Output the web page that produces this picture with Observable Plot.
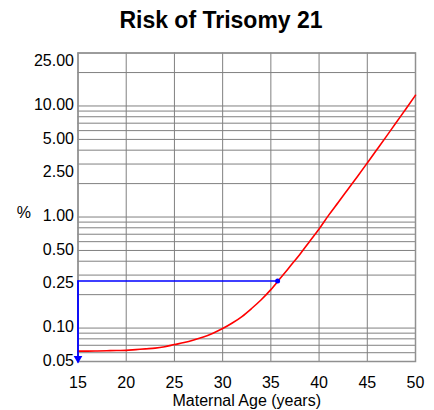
<!DOCTYPE html>
<html>
<head>
<meta charset="utf-8">
<script src="https://cdn.jsdelivr.net/npm/d3@7"></script>
<script src="https://cdn.jsdelivr.net/npm/@observablehq/plot@0.6"></script>
<style>
  body { margin: 0; background: #fff; font-family: "Liberation Sans", Arial, sans-serif; }
  #wrap { position: relative; width: 434px; height: 410px; }
  #title { position: absolute; left: 4px; top: 0; width: 434px; text-align: center; font-weight: bold; font-size: 23px; line-height: 23px; padding-top: 9px; color: #000; }
  #chart { position: absolute; left: 0; top: 40px; }
  .stray { position: absolute; color: #555; font-size: 7px; line-height: 7px; }
</style>
</head>
<body>
<div id="wrap">
  <div id="title">Risk of Trisomy 21</div>
  <div class="stray" style="left:0px;top:145px;">%</div>
  <div class="stray" style="left:0px;top:248px;">.</div>
  <div id="chart"></div>
</div>
<script>
const title = "Risk of Trisomy 21";
const xLabel = "Maternal Age (years)";
const yLabel = "%";
const ages = [15,16,17,18,19,20,21,22,23,24,25,26,27,28,29,30,31,32,33,34,35,36,37,38,39,40,41,42,43,44,45,46,47,48,49,50];
const risk = [0.062,0.062,0.0622,0.0625,0.0628,0.063,0.064,0.065,0.066,0.068,0.071,0.074,0.078,0.083,0.090,0.099,0.111,0.127,0.150,0.180,0.222,0.282,0.360,0.460,0.600,0.780,1.04,1.36,1.78,2.33,3.07,4.05,5.35,7.1,9.4,12.5];
const xTicks = [15,20,25,30,35,40,45,50];
const yTicks = [0.05,0.1,0.25,0.5,1,2.5,5,10,25];
const yGrid = [0.05,0.06,0.07,0.08,0.09,0.1,0.2,0.3,0.4,0.5,0.6,0.7,0.8,0.9,1,2,3,4,5,6,7,8,9,10,20,30];
const xDomain = [15, 50];
const yDomain = [0.05, 30];
const refAge = 35.7;
const refRisk = 0.265;
const startAge = 15;

const curve = ages.map((a, i) => ({age: a, risk: risk[i]}));
const hLine = [{age: startAge, risk: refRisk}, {age: refAge, risk: refRisk}];
const vLine = [{age: startAge, risk: refRisk}, {age: startAge, risk: yDomain[0]}];

const chart = Plot.plot({
  width: 434,
  height: 370,
  marginTop: 12.5,
  marginBottom: 49,
  marginLeft: 77.5,
  marginRight: 19,
  style: {fontFamily: "'Liberation Sans', Arial, sans-serif", fontSize: "16px", color: "#000", background: "#fff"},
  x: {domain: xDomain, axis: null},
  y: {type: "log", domain: yDomain, axis: null},
  marks: [
    Plot.ruleY(yGrid, {stroke: "#808080", strokeWidth: 1}),
    Plot.ruleX(xTicks, {stroke: "#808080", strokeWidth: 1}),
    Plot.frame({stroke: "#909090", strokeWidth: 1.5}),
    Plot.text(xTicks, {x: d => d, text: d => String(d), frameAnchor: "bottom", lineAnchor: "top", dy: 15, fontSize: 16, fill: "#000"}),
    Plot.text(yTicks, {y: d => d, text: d => d.toFixed(2), frameAnchor: "left", textAnchor: "end", dx: -4, dy: -1, fontSize: 16, fill: "#000"}),
    Plot.text([xLabel], {frameAnchor: "bottom", dy: 44, lineAnchor: "bottom", fontSize: 16, fill: "#000"}),
    Plot.text([yLabel], {frameAnchor: "left", dx: -47, dy: 6, fontSize: 16, fill: "#000", textAnchor: "end"}),
    Plot.line(curve, {x: "age", y: "risk", stroke: "#ff0000", strokeWidth: 1.6, curve: "monotone-x"}),
    Plot.line(hLine, {x: "age", y: "risk", stroke: "#0000ff", strokeWidth: 1.6}),
    Plot.line(vLine, {x: "age", y: "risk", stroke: "#0000ff", strokeWidth: 1.8}),
    Plot.dot([hLine[1]], {x: "age", y: "risk", r: 2.5, fill: "#0000ff"}),
    Plot.dot([vLine[1]], {x: "age", y: "risk", symbol: "triangle", r: 3.2, fill: "#0000ff", rotate: 180, dy: -3})
  ]
});
document.getElementById("chart").appendChild(chart);
</script>
</body>
</html>
